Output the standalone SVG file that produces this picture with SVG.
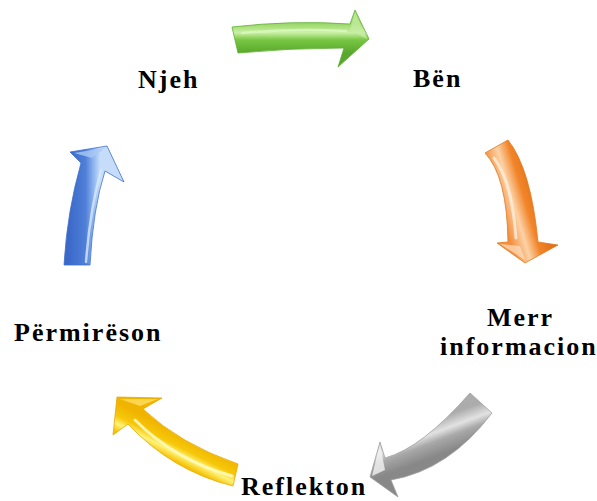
<svg xmlns="http://www.w3.org/2000/svg" width="597" height="501" viewBox="0 0 597 501">
<style>
.lbl{font-family:"Liberation Serif","Times New Roman",serif;font-weight:bold;font-size:26px;letter-spacing:2px;fill:#000}
.hl{fill:none;stroke-linecap:round}
</style>
<defs>
<linearGradient id="gG" gradientUnits="userSpaceOnUse" x1="0" y1="24" x2="0" y2="53">
<stop offset="0" stop-color="#9bd86a"/><stop offset="0.3" stop-color="#c9f0a3"/><stop offset="0.55" stop-color="#78c643"/><stop offset="1" stop-color="#58a82c"/>
</linearGradient>
<linearGradient id="gO" gradientUnits="userSpaceOnUse" x1="488" y1="165" x2="532" y2="152">
<stop offset="0" stop-color="#f39040"/><stop offset="0.3" stop-color="#fcd2a6"/><stop offset="0.55" stop-color="#f2852a"/><stop offset="1" stop-color="#d9660e"/>
</linearGradient>
<linearGradient id="gS" gradientUnits="userSpaceOnUse" x1="440" y1="418" x2="452" y2="450">
<stop offset="0" stop-color="#acacac"/><stop offset="0.35" stop-color="#e2e2e2"/><stop offset="0.6" stop-color="#a8a8a8"/><stop offset="1" stop-color="#888888"/>
</linearGradient>
<linearGradient id="gY" gradientUnits="userSpaceOnUse" x1="188" y1="438" x2="176" y2="462">
<stop offset="0" stop-color="#f0b400"/><stop offset="0.45" stop-color="#f7c80a"/><stop offset="0.7" stop-color="#fff37a"/><stop offset="1" stop-color="#f5c000"/>
</linearGradient>
<linearGradient id="gB" gradientUnits="userSpaceOnUse" x1="68" y1="0" x2="100" y2="0">
<stop offset="0" stop-color="#3a68c8"/><stop offset="0.55" stop-color="#4f7fd8"/><stop offset="0.8" stop-color="#8fb6f0"/><stop offset="1" stop-color="#c5dcfa"/>
</linearGradient>
</defs>
<g id="connectors">
<g id="arrow-green">
<path d="M232,27 Q292,20 350,24 L355,10 L369,39 L338,67 L344,48 Q290,48 238,53 Z" fill="url(#gG)" stroke="#5fae33" stroke-width="0.8"/>
<path class="hl" d="M242,33 Q292,28 346,31" stroke="#dcf7c0" stroke-width="2.5" opacity="0.8"/>
<path d="M355,12 L367,39 L350,30 Z" fill="#c8eea6" opacity="0.7"/>
</g>
<g id="arrow-orange">
<path d="M485,153 Q507,176 508,242 L497,243 L525,263 L558,245 L538,242 Q531,169 508,140 Z" fill="url(#gO)" stroke="#e07a20" stroke-width="0.8"/>
<path class="hl" d="M494,158 Q512,182 516,238" stroke="#fff0e0" stroke-width="3" opacity="0.75"/>
<path d="M500,244 L525,260 L520,246 Z" fill="#fde0c2" opacity="0.7"/>
</g>
<g id="arrow-gray">
<path d="M470,393 Q422,448 385,458 L380,442 L370,477 L398,497 L391,480 Q449,470 492,413 Z" fill="url(#gS)" stroke="#a0a0a0" stroke-width="0.8"/>
<path d="M380,444 L372,476 L385,470 Z" fill="#f2f2f2" opacity="0.8"/>
</g>
<g id="arrow-yellow">
<path d="M238,464 Q180,444 143,409 L162,398 L117,397 L113,435 L128,424 Q172,471 233,486 Z" fill="url(#gY)" stroke="#e8a800" stroke-width="0.8"/>
<path class="hl" d="M135,420 Q175,460 232,476" stroke="#fffbc0" stroke-width="3" opacity="0.85"/>
<path d="M120,399 L158,399 L140,406 Z" fill="#ffe060" opacity="0.8"/>
</g>
<g id="arrow-blue">
<path d="M64,265 Q67,212 81,163 L70,152 L107,146 L124,182 L105,171 Q93,208 90,265 Z" fill="url(#gB)" stroke="#3f6fcc" stroke-width="0.8"/>
<path class="hl" d="M86,262 Q90,210 101,170" stroke="#d8e8fc" stroke-width="2.5" opacity="0.8"/>
<path d="M74,153 L105,148 L92,158 Z" fill="#a9c8f5" opacity="0.8"/>
</g>
</g>
<g id="node-njeh"><text class="lbl" x="138" y="88">Njeh</text></g>
<g id="node-ben"><text class="lbl" x="413" y="87">Bën</text></g>
<g id="node-merr"><text class="lbl" x="487" y="326">Merr</text><text class="lbl" x="440" y="355">informacion</text></g>
<g id="node-reflekton"><text class="lbl" x="241" y="495">Reflekton</text></g>
<g id="node-permireson"><text class="lbl" x="14" y="341">Përmirëson</text></g>
</svg>
